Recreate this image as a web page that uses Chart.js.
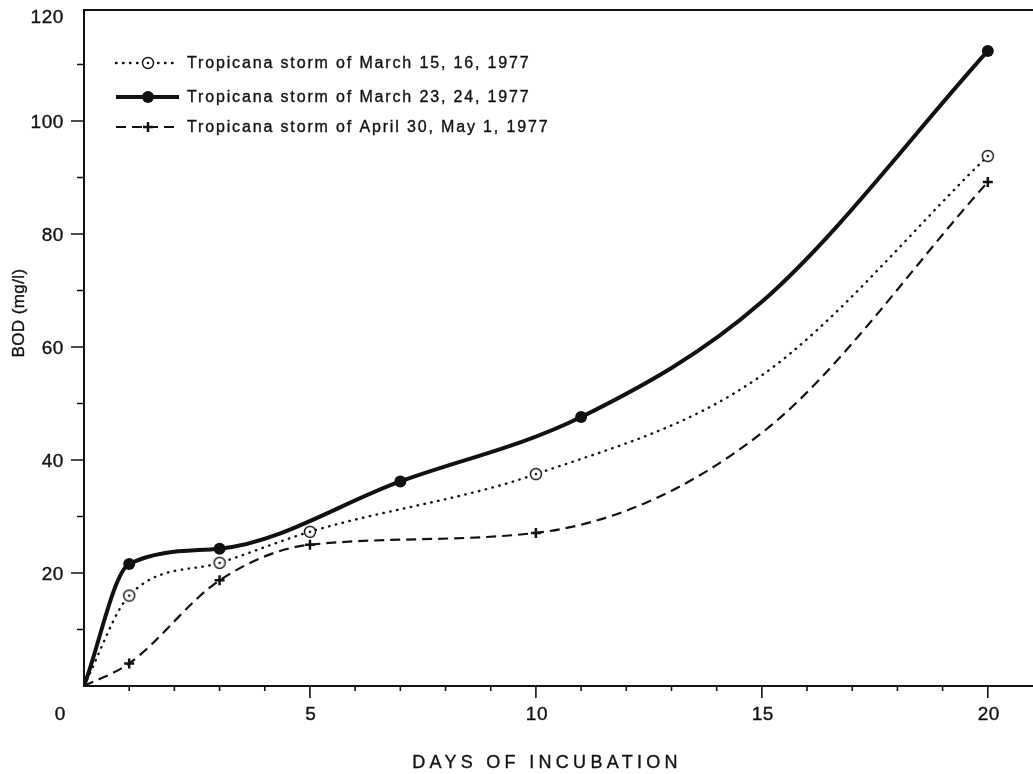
<!DOCTYPE html>
<html>
<head>
<meta charset="utf-8">
<script src="https://cdn.jsdelivr.net/npm/chart.js@4.4.0/dist/chart.umd.min.js"></script>
<style>
  html, body { margin: 0; background: #fff; }
  #wrap { width: 1033px; height: 774px; }
</style>
</head>
<body>
<div id="wrap"><canvas id="bod"></canvas></div>
<script>
// values (days of incubation vs BOD mg/l)
// day 15 entries (no marker there)
const march15Days = [0, 1, 3, 5, 10, 15, 20];
const march15Bod = [0, 16, 21.8, 27.3, 37.5, 55, 93.8];
const march15Marked = [false, true, true, true, true, false, true];
const march23Days = [0, 1, 3, 7, 11, 15, 20];
const march23Bod = [0, 21.6, 24.3, 36.2, 47.6, 68, 112.4];
const march23Marked = [false, true, true, true, true, false, true];
const april30Days = [0, 1, 3, 5, 10, 15, 20];
const april30Bod = [0, 4, 18.7, 25, 27.1, 44.8, 89.2];
const april30Marked = [false, true, true, true, true, false, true];
const seriesLabels = [
    'Tropicana storm of March 15, 16, 1977',
    'Tropicana storm of March 23, 24, 1977',
    'Tropicana storm of April 30, May 1, 1977'
];
const xTickLabels = [5, 10, 15, 20];
const yTickLabels = [20, 40, 60, 80, 100, 120];
const xMinorTicks = [1, 2, 3, 4, 6, 7, 8, 9, 11, 12, 13, 14, 16, 17, 18, 19];
const yMinorTicks = [10, 30, 50, 70, 90, 110];

const ink = '#111';
const font = '"Liberation Sans", Arial, sans-serif';

const toPoints = (xs, ys) => xs.map((x, i) => ({ x, y: ys[i] }));
const radii = (marked, r) => marked.map(m => (m ? r : 0));

// open circle with a centre dot
const ringDot = document.createElement('canvas');
ringDot.width = ringDot.height = 16;
(() => {
    const g = ringDot.getContext('2d');
    g.beginPath();
    g.arc(8, 8, 5.5, 0, Math.PI * 2);
    g.fillStyle = '#fff';
    g.fill();
    g.lineWidth = 1.4;
    g.strokeStyle = ink;
    g.stroke();
    g.beginPath();
    g.arc(8, 8, 1.3, 0, Math.PI * 2);
    g.fillStyle = ink;
    g.fill();
})();

// printed type in the scan is heavy, so fill plus a thin stroke
const drawText = (ctx, text, x, y, size, align, spacing) => {
    ctx.save();
    ctx.font = `${size}px ${font}`;
    ctx.letterSpacing = `${spacing || 0}px`;
    ctx.textAlign = align;
    ctx.textBaseline = 'middle';
    ctx.lineWidth = 0.35;
    ctx.setLineDash([]);
    ctx.fillText(text, x, y);
    ctx.strokeText(text, x, y);
    ctx.restore();
};

const paperAxes = {
    id: 'paperAxes',
    afterDatasetsDraw(chart) {
        const { ctx, chartArea: a, scales: { x, y } } = chart;
        ctx.save();
        ctx.strokeStyle = ink;
        ctx.fillStyle = ink;
        ctx.lineWidth = 2;

        // frame: top, left, bottom
        ctx.beginPath();
        ctx.moveTo(a.right, a.top + 2);
        ctx.lineTo(a.left, a.top + 2);
        ctx.lineTo(a.left, a.bottom);
        ctx.lineTo(a.right, a.bottom);
        ctx.stroke();

        // x ticks point down
        ctx.lineWidth = 1.6;
        ctx.beginPath();
        xMinorTicks.forEach(v => {
            const px = x.getPixelForValue(v);
            ctx.moveTo(px, a.bottom);
            ctx.lineTo(px, a.bottom + 5);
        });
        xTickLabels.forEach(v => {
            const px = x.getPixelForValue(v);
            ctx.moveTo(px, a.bottom);
            ctx.lineTo(px, a.bottom + 12);
        });
        // y ticks point left
        yMinorTicks.forEach(v => {
            const py = y.getPixelForValue(v);
            ctx.moveTo(a.left, py);
            ctx.lineTo(a.left - 7, py);
        });
        yTickLabels.forEach(v => {
            if (v === 120) return;
            const py = y.getPixelForValue(v);
            ctx.moveTo(a.left, py);
            ctx.lineTo(a.left - 13, py);
        });
        ctx.stroke();

        // tick labels
        xTickLabels.forEach(v => {
            drawText(ctx, String(v), x.getPixelForValue(v) + 1, a.bottom + 29, 19, 'center', 0.6);
        });
        drawText(ctx, '0', 60, a.bottom + 29, 19, 'center', 0);
        yTickLabels.forEach(v => {
            // the top label sits a little below the frame in the original
            const py = Math.max(y.getPixelForValue(v) + 2, 18);
            drawText(ctx, String(v), 64, py, 19, 'right', 0.6);
        });

        // axis titles
        drawText(ctx, 'DAYS OF INCUBATION', 547, 763, 18, 'center', 4.3);
        ctx.save();
        ctx.translate(19, 313);
        ctx.rotate(-Math.PI / 2);
        drawText(ctx, 'BOD (mg/l)', 0, 0, 17, 'center', 0.4);
        ctx.restore();

        // legend
        const rows = [63, 97, 127];
        chart.data.datasets.forEach((ds, i) => {
            const ry = rows[i];
            ctx.save();
            ctx.lineWidth = ds.borderWidth;
            ctx.lineCap = ds.borderCapStyle || 'butt';
            ctx.setLineDash(ds.borderDash || []);
            ctx.beginPath();
            ctx.moveTo(116, ry);
            ctx.lineTo(179, ry);
            ctx.stroke();
            ctx.restore();
            const mx = 148;
            if (i === 0) {
                ctx.drawImage(ringDot, mx - 8, ry - 8);
            } else if (i === 1) {
                ctx.beginPath();
                ctx.arc(mx, ry, 6, 0, Math.PI * 2);
                ctx.fill();
            } else {
                ctx.lineWidth = 2.5;
                ctx.beginPath();
                ctx.moveTo(mx - 5, ry);
                ctx.lineTo(mx + 5, ry);
                ctx.moveTo(mx, ry - 5);
                ctx.lineTo(mx, ry + 5);
                ctx.stroke();
            }
            drawText(ctx, ds.label, 187, ry + 1, 16, 'left', 1.85);
        });
        ctx.restore();
    }
};

new Chart(document.getElementById('bod'), {
    type: 'line',
    data: {
        datasets: [
            {
                label: seriesLabels[0],
                data: toPoints(march15Days, march15Bod),
                borderColor: ink,
                borderWidth: 2.4,
                borderDash: [0.5, 6.5],
                borderCapStyle: 'round',
                cubicInterpolationMode: 'monotone',
                pointStyle: ringDot,
                pointRadius: radii(march15Marked, 6),
            },
            {
                label: seriesLabels[1],
                data: toPoints(march23Days, march23Bod),
                borderColor: ink,
                backgroundColor: ink,
                borderWidth: 4,
                cubicInterpolationMode: 'monotone',
                pointStyle: 'circle',
                pointRadius: radii(march23Marked, 6),
                pointBorderWidth: 0,
            },
            {
                label: seriesLabels[2],
                data: toPoints(april30Days, april30Bod),
                borderColor: ink,
                borderWidth: 2.2,
                borderDash: [10, 6],
                cubicInterpolationMode: 'monotone',
                pointStyle: 'cross',
                pointRadius: radii(april30Marked, 5),
                pointBorderWidth: 2.5,
            }
        ]
    },
    options: {
        responsive: true,
        maintainAspectRatio: false,
        animation: false,
        layout: { autoPadding: false, padding: { left: 84, top: 8, right: 0, bottom: 88 } },
        plugins: {
            legend: { display: false },
            tooltip: { enabled: false }
        },
        scales: {
            x: { type: 'linear', min: 0, max: 21, display: false },
            y: { type: 'linear', min: 0, max: 120, display: false }
        }
    },
    plugins: [paperAxes]
});
</script>
</body>
</html>
